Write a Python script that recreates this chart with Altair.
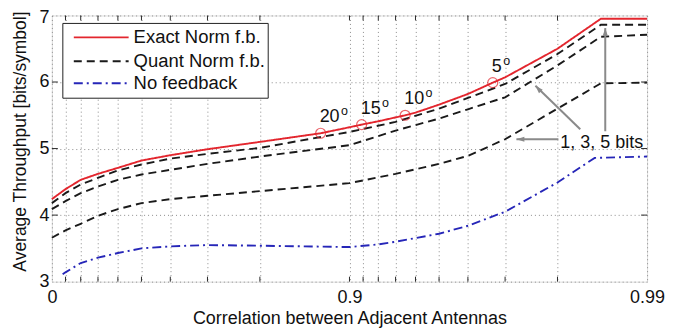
import altair as alt
import pandas as pd

# ---------------- data ----------------
# correlation between adjacent antennas (rho) and average throughput [bits/symbol]
rho_exact = [0, 0.1, 0.2, 0.3, 0.4, 0.5, 0.6, 0.7, 0.8, 0.875, 0.9, 0.909, 0.92,
             0.935, 0.94, 0.95, 0.96, 0.967, 0.97, 0.98, 0.9857, 0.99]
thr_exact = [4.24, 4.39, 4.53, 4.62, 4.71, 4.82, 4.90, 4.99, 5.10, 5.23, 5.32, 5.36, 5.41,
             5.50, 5.54, 5.66, 5.82, 5.99, 6.07, 6.50, 6.95, 6.95]

rho_quant = [0, 0.1, 0.2, 0.3, 0.4, 0.5, 0.6, 0.7, 0.8, 0.9, 0.93, 0.95, 0.96, 0.97,
             0.98, 0.9857, 0.99]
thr_q5 = [4.18, 4.33, 4.46, 4.56, 4.67, 4.76, 4.85, 4.92, 5.01, 5.25, 5.40, 5.60, 5.76, 5.97,
          6.42, 6.86, 6.86]
thr_q3 = [4.09, 4.21, 4.33, 4.43, 4.53, 4.61, 4.68, 4.77, 4.88, 5.05, 5.27, 5.45, 5.59, 5.77,
          6.25, 6.68, 6.71]
thr_q1 = [3.66, 3.77, 3.87, 3.99, 4.09, 4.18, 4.24, 4.29, 4.36, 4.48, 4.62, 4.77, 4.89, 5.14,
          5.60, 5.98, 5.99]

rho_nofb = [0.08, 0.1, 0.2, 0.3, 0.4, 0.5, 0.6, 0.7, 0.8, 0.9, 0.92, 0.93, 0.95, 0.96,
            0.97, 0.98, 0.985, 0.99]
thr_nofb = [3.11, 3.14, 3.28, 3.36, 3.43, 3.50, 3.53, 3.55, 3.54, 3.52, 3.56, 3.60, 3.72, 3.84,
            4.05, 4.49, 4.86, 4.88]

# angular-spread markers on the exact-norm curve (labels in degrees)
rho_deg = [0.875, 0.909, 0.935, 0.967]
thr_deg = [5.23, 5.36, 5.50, 5.99]
deg_labels = ["20", "15", "10", "5"]

# "1, 3, 5 bits" annotation: arrows (start -> tip) and text anchor
arrow_id = ["a1", "a1", "a2", "a2", "a3", "a3"]
arrow_rho = [0.98014, 0.97252, 0.98323, 0.97628, 0.98618, 0.98618]
arrow_thr = [5.14, 5.14, 5.29, 5.944, 5.26, 6.81]
arrow_angle = [270, 317, 0]
note_rho = [0.98044]
note_thr = [5.007]
note_text = ["1, 3, 5 bits"]

# axes
x_grid_rho = [0, 0.1, 0.2, 0.3, 0.4, 0.5, 0.6, 0.7, 0.8, 0.9, 0.91, 0.92, 0.93, 0.94,
              0.95, 0.96, 0.97, 0.98, 0.99]
y_ticks = [3, 4, 5, 6, 7]

series_names = ["Exact Norm f.b.", "Quant Norm f.b.", "No feedback"]
series_colors = ["#e3262e", "#1a1a1a", "#2626b8"]
series_dash = [[1, 0], [8, 5], [9, 4, 2, 4]]

# ---------------- tables ----------------
def omr(r):
    return round(1 - r, 6)

rows = []
for r, v in zip(rho_exact, thr_exact):
    rows.append(dict(omr=omr(r), thr=v, series=series_names[0], line="exact"))
for name, vals in [("q5", thr_q5), ("q3", thr_q3), ("q1", thr_q1)]:
    for r, v in zip(rho_quant, vals):
        rows.append(dict(omr=omr(r), thr=v, series=series_names[1], line=name))
for r, v in zip(rho_nofb, thr_nofb):
    rows.append(dict(omr=omr(r), thr=v, series=series_names[2], line="nofb"))
curves = pd.DataFrame(rows)

deg_df = pd.DataFrame(dict(omr=[omr(r) for r in rho_deg], thr=thr_deg, label=deg_labels))
arrow_df = pd.DataFrame(dict(omr=[omr(r) for r in arrow_rho], thr=arrow_thr, id=arrow_id))
tips = arrow_df.iloc[1::2].copy()
tips["angle"] = arrow_angle
note_df = pd.DataFrame(dict(omr=[omr(r) for r in note_rho], thr=note_thr, text=note_text))
xg = [omr(r) for r in x_grid_rho]
xtick_df = pd.DataFrame(dict(omr=xg[1:-1]))
ytick_df = pd.DataFrame(dict(thr=y_ticks[1:-1]))

W, H = 597, 267
FONT = "Liberation Sans"
GRID = dict(grid=True, gridColor="#8c8c8c", gridDash=[1, 3], gridWidth=1, gridOpacity=1)

label_expr = ("abs(datum.value-1)<1e-6 ? '0' : abs(datum.value-0.1)<1e-6 ? '0.9' : "
              "abs(datum.value-0.01)<1e-6 ? '0.99' : ''")

xscale = alt.Scale(type="log", domain=[0.01, 1], reverse=True)
yscale = alt.Scale(domain=[3, 7], nice=False, zero=False)

X = alt.X("omr:Q", scale=xscale,
          axis=alt.Axis(values=xg, labelExpr=label_expr, labelOverlap=False, labelFlush=False,
                        ticks=False, tickSize=0, domain=False, labelPadding=7,
                        labelFontSize=18, labelColor="#111", labelFont=FONT,
                        title="Correlation between Adjacent Antennas", titleFontSize=18,
                        titleFontWeight="normal", titleFont=FONT, titleColor="#111",
                        titleY=42, titleBaseline="alphabetic", **GRID))
Y = alt.Y("thr:Q", scale=yscale,
          axis=alt.Axis(values=y_ticks, format="d", ticks=False, tickSize=0, domain=False,
                        labelPadding=3, labelFontSize=18, labelColor="#111", labelFont=FONT,
                        labelOffset={"condition": {"test": "datum.value >= 7", "value": 2.5},
                                     "value": 0},
                        title="Average Throughput [bits/symbol]", titleFontSize=17.5,
                        titleFontWeight="normal", titleFont=FONT, titleColor="#111",
                        titleX=-26, titleY=126, titleAngle=270, titleBaseline="alphabetic",
                        **GRID))

base = alt.Chart(curves).mark_line(strokeWidth=1.9).encode(
    x=X, y=Y,
    color=alt.Color("series:N", scale=alt.Scale(domain=series_names, range=series_colors),
                    legend=None),
    strokeDash=alt.StrokeDash("series:N", scale=alt.Scale(domain=series_names, range=series_dash),
                              legend=None),
    detail="line:N",
)

xs = alt.X("omr:Q", scale=xscale)
ys = alt.Y("thr:Q", scale=yscale)

circles = alt.Chart(deg_df).mark_point(shape="circle", filled=False, color="#e3262e",
                                       size=100, strokeWidth=1.2).encode(x=xs, y=ys)
deg_text = alt.Chart(deg_df).mark_text(align="left", baseline="middle", dx=-1, dy=-16,
                                       fontSize=18, font=FONT, color="#111").encode(
    x=xs, y=ys, text="label:N")
# superscript "o" after each degree number
deg_sups = []
for lab in deg_labels:
    deg_sups.append(
        alt.Chart(deg_df).transform_filter(alt.datum.label == lab).mark_text(
            align="left", baseline="middle", dx=10 * len(lab) + 0.5, dy=-22,
            fontSize=12.5, font=FONT, color="#111").encode(x=xs, y=ys, text=alt.value("o")))

arrows = alt.Chart(arrow_df).mark_line(color="#8a8a8a", strokeWidth=2).encode(
    x=xs, y=ys, detail="id:N")
heads = alt.Chart(tips).mark_point(shape="M0,0L-0.42,1.3L0.42,1.3Z", filled=True,
                                   color="#8a8a8a", size=150, opacity=1, strokeWidth=0).encode(
    x=xs, y=ys, angle=alt.Angle("angle:Q", scale=None))
note = alt.Chart(note_df).mark_text(align="left", baseline="alphabetic", fontSize=18,
                                    font=FONT, color="#111").encode(x=xs, y=ys, text="text:N")

FRAME = "#2b2b2b"
top_ticks = alt.Chart(xtick_df).mark_rule(color=FRAME, strokeWidth=1).encode(
    x=xs, y=alt.value(0), y2=alt.value(5))
bot_ticks = alt.Chart(xtick_df).mark_rule(color=FRAME, strokeWidth=1).encode(
    x=xs, y=alt.value(H - 5), y2=alt.value(H))
left_ticks = alt.Chart(ytick_df).mark_rule(color=FRAME, strokeWidth=1).encode(
    y=ys, x=alt.value(0), x2=alt.value(6))
right_ticks = alt.Chart(ytick_df).mark_rule(color=FRAME, strokeWidth=1).encode(
    y=ys, x=alt.value(W - 6), x2=alt.value(W))

one = pd.DataFrame({"k": [0]})
leg_box = alt.Chart(one).mark_rect(fill="white", stroke="#222", strokeWidth=1).encode(
    x=alt.value(11), x2=alt.value(217), y=alt.value(8), y2=alt.value(83))
leg_rows = [22, 46, 68]
leg_layers = [leg_box]
for name, col, dash, yy in zip(series_names, series_colors, series_dash, leg_rows):
    leg_layers.append(alt.Chart(one).mark_rule(color=col, strokeDash=dash, strokeWidth=1.9).encode(
        x=alt.value(22), x2=alt.value(77), y=alt.value(yy)))
    leg_layers.append(alt.Chart(one).mark_text(align="left", baseline="middle", fontSize=18.5,
                                               font=FONT, color="#111").encode(
        x=alt.value(82), y=alt.value(yy), text=alt.value(name)))

chart = alt.layer(
    base, arrows, heads, note, circles, deg_text, *deg_sups,
    top_ticks, bot_ticks, left_ticks, right_ticks, *leg_layers
).properties(
    width=W, height=H,
    autosize=alt.AutoSizeParams(type="none"),
    padding={"left": 44, "top": 7, "right": 24, "bottom": 46},
).configure_view(stroke=FRAME, strokeWidth=1).configure(font=FONT)

chart.save("out.html", embed_options={"renderer": "svg", "actions": False})
